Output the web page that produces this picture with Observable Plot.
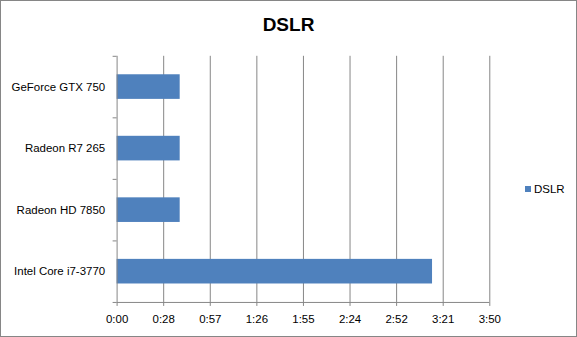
<!DOCTYPE html>
<html>
<head>
<meta charset="utf-8">
<script src="https://cdn.jsdelivr.net/npm/d3@7"></script>
<script src="https://cdn.jsdelivr.net/npm/@observablehq/plot@0.6"></script>
<style>
  html, body { margin: 0; padding: 0; background: #fff; }
  #chart { position: relative; width: 577px; height: 337px; box-sizing: border-box; border: 1px solid #868686; overflow: hidden; font-family: "Liberation Sans", Arial, sans-serif; }
  #chart svg { position: absolute; left: -1px; top: -1px; }
  #title { position: absolute; left: 0; width: 575px; top: 13px; text-align: center; font: bold 19px "Liberation Sans", Arial, sans-serif; color: #000; }
  #legend { position: absolute; left: 524px; top: 182px; font: 11.5px "Liberation Sans", Arial, sans-serif; color: #000; display: flex; align-items: center; }
  #legend .sw { width: 6px; height: 6px; background: #4F81BD; margin-right: 3px; }
</style>
</head>
<body>
<div id="chart">
  <div id="title">DSLR</div>
  <div id="legend"><span class="sw"></span><span>DSLR</span></div>
</div>
<script>
// Data (top to bottom), times in seconds
const categories = ["GeForce GTX 750", "Radeon R7 265", "Radeon HD 7850", "Intel Core i7-3770"];
const seriesName = "DSLR";
const values = [39, 39, 39, 195];
const xTicks = [0, 28.8, 57.6, 86.4, 115.2, 144, 172.8, 201.6, 230.4];
const xTickLabels = ["0:00", "0:28", "0:57", "1:26", "1:55", "2:24", "2:52", "3:21", "3:50"];

const rows = categories.map((c, i) => ({category: c, index: i, value: values[i]}));
const boundaries = d3.range(categories.length + 1).map(i => i - 0.5);
const halfBar = 0.2;
const gray = "#868686";

const plot = Plot.plot({
  width: 577,
  height: 337,
  marginLeft: 117,
  marginRight: 86,
  marginTop: 56,
  marginBottom: 34,
  style: {fontFamily: "'Liberation Sans', Arial, sans-serif", fontSize: "11.5px", color: "#000", background: "transparent"},
  x: {domain: [0, xTicks[xTicks.length - 1]], ticks: xTicks, label: null},
  y: {domain: [-0.5, categories.length - 0.5], reverse: true, label: null},
  marks: [
    Plot.ruleX(xTicks.slice(1), {y1: -0.5, y2: categories.length - 0.5, stroke: gray, strokeWidth: 1}),
    Plot.rectX(rows, {x1: 0, x2: "value", y1: d => d.index - halfBar, y2: d => d.index + halfBar, fill: "#4F81BD"}),
    Plot.ruleX([0], {y1: -0.5, y2: categories.length - 0.5, stroke: gray}),
    Plot.ruleY([categories.length - 0.5], {stroke: gray}),
    Plot.axisX({ticks: xTicks, tickSize: 4, tickPadding: 8, stroke: gray, label: null, tickFormat: (d, i) => xTickLabels[i], fill: "#000"}),
    Plot.axisY({ticks: boundaries, tickSize: 4, stroke: gray, label: null, tickFormat: () => ""}),
    Plot.axisY({ticks: d3.range(categories.length), tickSize: 0, tickPadding: 12, label: null, tickFormat: i => categories[i], fill: "#000"})
  ]
});
document.getElementById("chart").appendChild(plot);
</script>
</body>
</html>
